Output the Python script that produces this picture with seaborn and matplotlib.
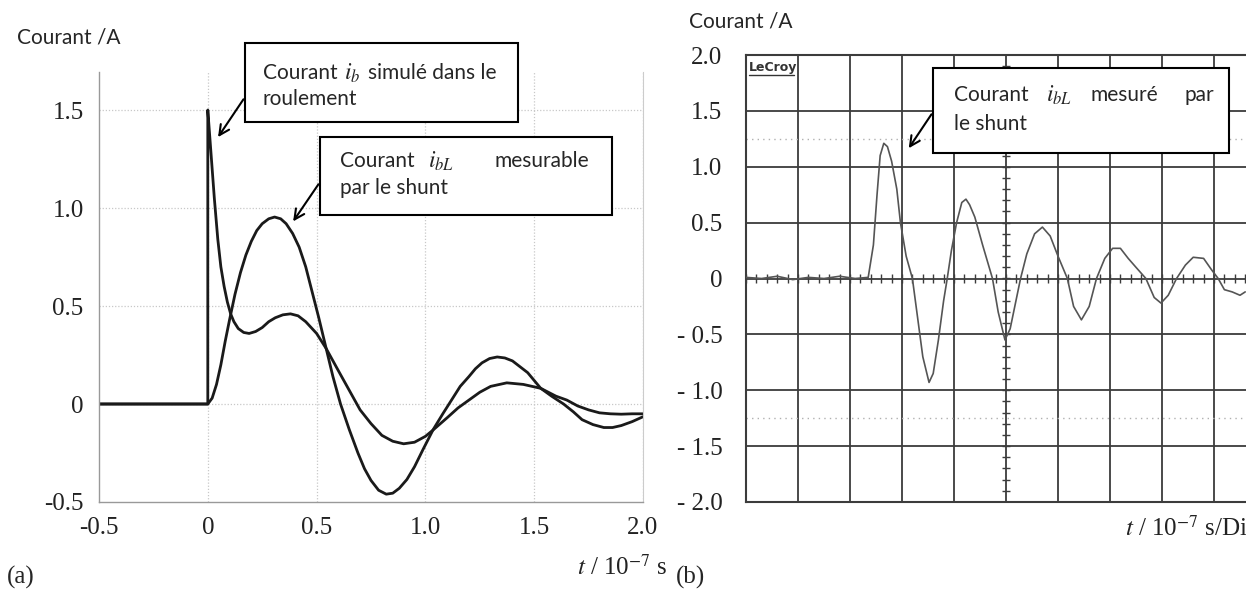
import numpy as np
import matplotlib
matplotlib.use('Agg')
import matplotlib.pyplot as plt
from matplotlib.lines import Line2D
from matplotlib.patches import Rectangle
import seaborn as sns
import pandas as pd

# (a) simulated currents, t in 1e-7 s
t_ib = [-0.5, 0.0, 0.0, 0.01, 0.02, 0.03, 0.046, 0.06, 0.075, 0.09, 0.105, 0.12, 0.14,
        0.165, 0.19, 0.22, 0.25, 0.28, 0.31, 0.345, 0.38, 0.415, 0.45, 0.5, 0.544,
        0.6, 0.65, 0.7, 0.75, 0.8, 0.85, 0.9, 0.95, 1.0, 1.036, 1.1, 1.15, 1.2, 1.25,
        1.3, 1.374, 1.45, 1.53, 1.6, 1.65, 1.7, 1.75, 1.8, 1.85, 1.9, 1.95, 2.0]
i_b = [0.0, 0.0, 1.5, 1.35, 1.2, 1.05, 0.84, 0.7, 0.6, 0.52, 0.46, 0.42, 0.385,
       0.365, 0.36, 0.37, 0.39, 0.42, 0.44, 0.455, 0.46, 0.45, 0.42, 0.36, 0.283,
       0.17, 0.07, -0.03, -0.1, -0.16, -0.19, -0.203, -0.195, -0.165, -0.132, -0.07, -0.02, 0.02, 0.06,
       0.09, 0.108, 0.1, 0.08, 0.04, 0.02, -0.01, -0.03, -0.045, -0.05, -0.052, -0.05, -0.05]

t_ibl = [-0.5, 0.0, 0.02, 0.04, 0.06, 0.08, 0.1, 0.125, 0.15, 0.175, 0.2, 0.225, 0.25,
         0.28, 0.307, 0.335, 0.36, 0.39, 0.42, 0.45, 0.48, 0.51, 0.544, 0.575, 0.61,
         0.65, 0.69, 0.72, 0.75, 0.785, 0.82, 0.85, 0.88, 0.915, 0.95, 0.99, 1.036,
         1.08, 1.12, 1.16, 1.2, 1.23, 1.26, 1.295, 1.33, 1.365, 1.4, 1.435, 1.47, 1.5,
         1.53, 1.58, 1.635, 1.68, 1.72, 1.77, 1.82, 1.86, 1.9, 1.95, 2.0]
i_bl = [0.0, 0.0, 0.03, 0.1, 0.2, 0.32, 0.43, 0.56, 0.67, 0.76, 0.83, 0.885, 0.92,
        0.945, 0.954, 0.945, 0.92, 0.87, 0.8, 0.7, 0.57, 0.44, 0.283, 0.14, 0.0,
        -0.13, -0.25, -0.33, -0.39, -0.44, -0.46, -0.455, -0.43, -0.385, -0.32, -0.23, -0.13,
        -0.05, 0.02, 0.09, 0.14, 0.18, 0.21, 0.232, 0.24, 0.235, 0.22, 0.19, 0.16, 0.12,
        0.08, 0.04, 0.0, -0.04, -0.08, -0.105, -0.12, -0.12, -0.11, -0.09, -0.065]

# (b) measured current, x in divisions
div_m = [0.0, 0.3, 0.6, 0.9, 1.2, 1.5, 1.8, 2.1, 2.35, 2.45, 2.52, 2.58, 2.65, 2.72,
         2.8, 2.9, 2.97, 3.08, 3.2, 3.3, 3.4, 3.52, 3.6, 3.7, 3.8, 3.87, 3.95, 4.05,
         4.15, 4.23, 4.3, 4.4, 4.55, 4.74, 4.85, 4.98, 5.08, 5.2, 5.28, 5.4, 5.55, 5.7,
         5.85, 6.0, 6.18, 6.3, 6.45, 6.6, 6.74, 6.9, 7.05, 7.2, 7.35, 7.5, 7.69,
         7.85, 7.98, 8.12, 8.28, 8.45, 8.6, 8.8, 8.95, 9.08, 9.2, 9.35, 9.5, 9.6]
i_m = [0.01, 0.0, 0.02, -0.01, 0.01, 0.0, 0.02, 0.0, 0.01, 0.3, 0.75, 1.1, 1.21, 1.18,
       1.05, 0.8, 0.5, 0.2, 0.0, -0.35, -0.7, -0.93, -0.85, -0.55, -0.2, 0.0, 0.25, 0.5,
       0.68, 0.71, 0.66, 0.55, 0.3, 0.0, -0.3, -0.55, -0.45, -0.18, 0.0, 0.22, 0.4, 0.46,
       0.38, 0.2, 0.0, -0.25, -0.37, -0.25, 0.0, 0.18, 0.27, 0.27, 0.18, 0.1, 0.0,
       -0.17, -0.22, -0.15, 0.0, 0.12, 0.19, 0.18, 0.08, 0.0, -0.1, -0.12, -0.15, -0.12]

left_xticks = [-0.5, 0, 0.5, 1.0, 1.5, 2.0]
left_xlabels = ['-0.5', '0', '0.5', '1.0', '1.5', '2.0']
left_yticks = [-0.5, 0, 0.5, 1.0, 1.5]
left_ylabels = ['-0.5', '0', '0.5', '1.0', '1.5']
right_yticks = [2.0, 1.5, 1.0, 0.5, 0, -0.5, -1.0, -1.5, -2.0]
right_ylabels = ['2.0', '1.5', '1.0', '0.5', '0', '- 0.5', '- 1.0', '- 1.5', '- 2.0']

sns.set_theme(style='white')
plt.rcParams['mathtext.fontset'] = 'stix'
SERIF = ['Liberation Serif', 'DejaVu Serif']
SANS = ['Lato', 'DejaVu Sans']

W, H = 1246, 591
fig = plt.figure(figsize=(W / 100, H / 100), dpi=100)


def px(x, y):
    return x / W, 1 - y / H


# ---------- (a) ----------
ax1 = fig.add_axes([99 / W, 1 - 502 / H, 544 / W, 430 / H])
df_b = pd.DataFrame({'t': t_ib, 'i': i_b})
df_bl = pd.DataFrame({'t': t_ibl, 'i': i_bl})
sns.lineplot(data=df_b, x='t', y='i', ax=ax1, estimator=None, sort=False,
             color='#1a1a1a', linewidth=2.0)
sns.lineplot(data=df_bl, x='t', y='i', ax=ax1, estimator=None, sort=False,
             color='#1a1a1a', linewidth=2.0)
ax1.set_xlim(-0.5, 2.0)
ax1.set_ylim(-0.5, 1.694)
ax1.set_xticks(left_xticks)
ax1.set_xticklabels(left_xlabels)
ax1.set_yticks(left_yticks)
ax1.set_yticklabels(left_ylabels)
ax1.set_xlabel('')
ax1.set_ylabel('')
for tv in left_xticks[1:]:
    ax1.axvline(tv, color='#c8c8c8', lw=0.9, ls=(0, (1, 1.5)), zorder=0)
for tv in left_yticks[1:]:
    ax1.axhline(tv, color='#c8c8c8', lw=0.9, ls=(0, (1, 1.5)), zorder=0)
for s in ['left', 'bottom']:
    ax1.spines[s].set_color('#999999')
    ax1.spines[s].set_linewidth(1.0)
ax1.spines['right'].set_color('#cccccc')
ax1.spines['right'].set_linewidth(0.8)
ax1.spines['top'].set_visible(False)
ax1.tick_params(direction='in', length=4, color='#999999', pad=11,
                labelsize=18, labelcolor='#222222')
for lab in ax1.get_xticklabels() + ax1.get_yticklabels():
    lab.set_family(SERIF)

# ---------- (b) ----------
ax2 = fig.add_axes([746 / W, 1 - 502 / H, 520 / W, 447 / H])
df_m = pd.DataFrame({'d': div_m, 'i': i_m})
ax2.set_xlim(0, 10)
ax2.set_ylim(-2.0, 2.0)
grid_c = '#3c3c3c'
for d in range(1, 10):
    ax2.axvline(d, color=grid_c, lw=1.3, zorder=1)
for v in right_yticks[1:-1]:
    ax2.axhline(v, color=grid_c, lw=1.3, zorder=1)
for v in (1.25, -1.25):
    ax2.axhline(v, color='#b0b0b0', lw=1.0, ls=(0, (1, 3)), zorder=1)
# graduation marks on the centre lines
ax2.vlines(np.arange(0, 10.01, 0.2), -0.04, 0.04, color=grid_c, lw=1.0, zorder=1)
ax2.hlines(np.arange(-1.9, 1.91, 0.1), 4.93, 5.07, color=grid_c, lw=1.0, zorder=1)
sns.lineplot(data=df_m, x='d', y='i', ax=ax2, estimator=None, sort=False,
             color='#555555', linewidth=1.2, zorder=3)
ax2.set_xlabel('')
ax2.set_ylabel('')
ax2.set_xticks([])
ax2.set_yticks(right_yticks)
ax2.set_yticklabels(right_ylabels)
for s in ax2.spines.values():
    s.set_color(grid_c)
    s.set_linewidth(1.5)
ax2.tick_params(axis='y', length=0, pad=17, labelsize=18, labelcolor='#222222')
for lab in ax2.get_yticklabels():
    lab.set_family(SERIF)
fig.text(*px(749, 67), 'LeCroy', fontsize=9, fontweight='bold', family='DejaVu Sans',
         color='#333333', ha='left', va='center')
fig.add_artist(Line2D([749 / W, 794 / W], [1 - 75 / H, 1 - 75 / H],
                      transform=fig.transFigure, color='#333333', lw=1.0))

# ---------- texts ----------
fig.text(*px(17, 37), 'Courant /A', family=SANS, fontsize=15, ha='left', va='center')
fig.text(*px(689, 21), 'Courant /A', family=SANS, fontsize=15, ha='left', va='center')
fig.text(*px(668, 567), r'$t$ / 10$^{-7}$ s', family=SERIF, fontsize=18,
         ha='right', va='center', color='#222222')
fig.text(*px(1125, 528), r'$t$ / 10$^{-7}$ s/Div', family=SERIF, fontsize=18,
         ha='left', va='center', color='#222222')
fig.text(*px(7, 577), '(a)', family=SERIF, fontsize=18, ha='left', va='center')
fig.text(*px(676, 577), '(b)', family=SERIF, fontsize=18, ha='left', va='center')


def box(x0, y0, x1, y1):
    fig.add_artist(Rectangle(px(x0, y1), (x1 - x0) / W, (y1 - y0) / H,
                             transform=fig.transFigure, facecolor='white',
                             edgecolor='black', lw=1.5, zorder=5))


def words(items, y):
    for x, s in items:
        size = 17 if s.startswith('$') else 15
        fig.text(*px(x, y), s, family=SANS, fontsize=size, ha='left', va='center', zorder=6)


box(245, 43, 518, 122)
words([(263, 'Courant'), (344, r'$i_b$'), (368, 'simulé dans le')], 73)
words([(263, 'roulement')], 99)

box(320, 137, 612, 215)
words([(340, 'Courant'), (428, r'$i_{bL}$'), (495, 'mesurable')], 161)
words([(340, 'par le shunt')], 188)

box(933, 68, 1229, 153)
words([(954, 'Courant'), (1046, r'$i_{bL}$'), (1090, 'mesuré'), (1184, 'par')], 95)
words([(954, 'le shunt')], 124)

arrow = dict(arrowstyle='->', color='black', lw=1.5, mutation_scale=18)
ax1.annotate('', xy=(0.04, 1.35), xytext=px(245, 97), textcoords='figure fraction',
             arrowprops=arrow)
ax1.annotate('', xy=(0.385, 0.92), xytext=px(320, 182), textcoords='figure fraction',
             arrowprops=arrow)
ax2.annotate('', xy=(3.1, 1.145), xytext=px(933, 112), textcoords='figure fraction',
             arrowprops=arrow)

plt.savefig('out.png', dpi=100)
plt.close()
